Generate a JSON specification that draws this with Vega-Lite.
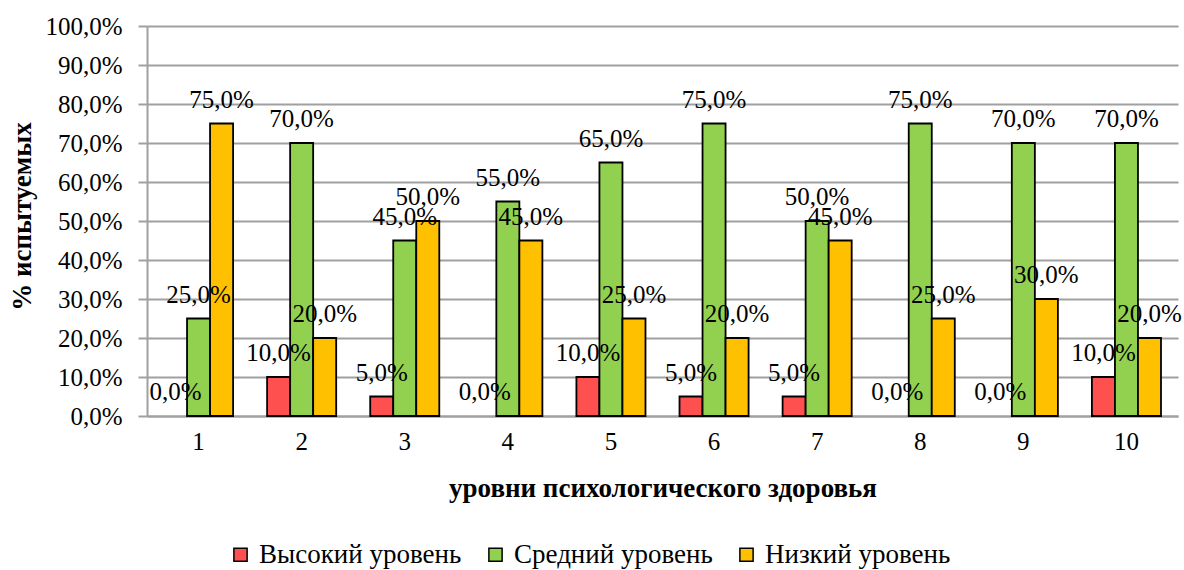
{
  "$schema": "https://vega.github.io/schema/vega-lite/v6.json",
  "autosize": {"type": "none"},
  "width": 1031,
  "height": 390,
  "padding": {"left": 147, "top": 26, "right": 6, "bottom": 154},
  "background": "white",
  "config": {
    "locale": {"number": {"decimal": ",", "thousands": " ", "grouping": [3], "currency": ["", " ₽"]}},
    "font": "Liberation Serif",
    "view": {"stroke": null}
  },
  "data": {
    "values": [
      {"g": "1", "s": "Высокий уровень", "v": 0.0},
      {"g": "1", "s": "Средний уровень", "v": 0.25},
      {"g": "1", "s": "Низкий уровень", "v": 0.75},
      {"g": "2", "s": "Высокий уровень", "v": 0.10},
      {"g": "2", "s": "Средний уровень", "v": 0.70},
      {"g": "2", "s": "Низкий уровень", "v": 0.20},
      {"g": "3", "s": "Высокий уровень", "v": 0.05},
      {"g": "3", "s": "Средний уровень", "v": 0.45},
      {"g": "3", "s": "Низкий уровень", "v": 0.50},
      {"g": "4", "s": "Высокий уровень", "v": 0.0},
      {"g": "4", "s": "Средний уровень", "v": 0.55},
      {"g": "4", "s": "Низкий уровень", "v": 0.45},
      {"g": "5", "s": "Высокий уровень", "v": 0.10},
      {"g": "5", "s": "Средний уровень", "v": 0.65},
      {"g": "5", "s": "Низкий уровень", "v": 0.25},
      {"g": "6", "s": "Высокий уровень", "v": 0.05},
      {"g": "6", "s": "Средний уровень", "v": 0.75},
      {"g": "6", "s": "Низкий уровень", "v": 0.20},
      {"g": "7", "s": "Высокий уровень", "v": 0.05},
      {"g": "7", "s": "Средний уровень", "v": 0.50},
      {"g": "7", "s": "Низкий уровень", "v": 0.45},
      {"g": "8", "s": "Высокий уровень", "v": 0.0},
      {"g": "8", "s": "Средний уровень", "v": 0.75},
      {"g": "8", "s": "Низкий уровень", "v": 0.25},
      {"g": "9", "s": "Высокий уровень", "v": 0.0},
      {"g": "9", "s": "Средний уровень", "v": 0.70},
      {"g": "9", "s": "Низкий уровень", "v": 0.30},
      {"g": "10", "s": "Высокий уровень", "v": 0.10},
      {"g": "10", "s": "Средний уровень", "v": 0.70},
      {"g": "10", "s": "Низкий уровень", "v": 0.20}
    ]
  },
  "encoding": {
    "x": {
      "field": "g", "type": "ordinal", "sort": null,
      "scale": {"paddingInner": 0.33, "paddingOuter": 0.165},
      "axis": {
        "title": "уровни психологического здоровья",
        "titleFont": "Liberation Serif", "titleFontSize": 27, "titleFontWeight": "bold", "titleColor": "black",
        "titleY": 80, "titleBaseline": "alphabetic",
        "labelAngle": 0, "labelFont": "Liberation Serif", "labelFontSize": 25, "labelColor": "black", "labelPadding": 13,
        "ticks": false, "domainColor": "#a0a0a0", "domainWidth": 2
      }
    },
    "xOffset": {"field": "s", "type": "nominal", "sort": ["Высокий уровень", "Средний уровень", "Низкий уровень"], "scale": {"paddingInner": 0, "paddingOuter": 0}},
    "y": {
      "field": "v", "type": "quantitative",
      "scale": {"domain": [0, 1]},
      "axis": {
        "title": "%  испытуемых",
        "titleFont": "Liberation Serif", "titleFontSize": 27, "titleFontWeight": "bold", "titleColor": "black",
        "titleX": -117, "titleY": 190, "titleAlign": "center", "titleBaseline": "alphabetic", "titleAngle": -90,
        "values": [0, 0.1, 0.2, 0.3, 0.4, 0.5, 0.6, 0.7, 0.8, 0.9, 1.0],
        "format": ".1%",
        "labelFont": "Liberation Serif", "labelFontSize": 25, "labelColor": "black", "labelPadding": 16,
        "tickSize": 9, "tickColor": "#a0a0a0", "tickWidth": 2,
        "gridColor": "#a0a0a0", "gridWidth": 2,
        "domainColor": "#a0a0a0", "domainWidth": 2
      }
    }
  },
  "layer": [
    {
      "mark": {"type": "bar", "stroke": "black", "strokeWidth": 1.8},
      "encoding": {
        "strokeOpacity": {"condition": {"test": "datum.v == 0", "value": 0}, "value": 1},
        "color": {
          "field": "s", "type": "nominal",
          "sort": ["Высокий уровень", "Средний уровень", "Низкий уровень"],
          "scale": {"domain": ["Высокий уровень", "Средний уровень", "Низкий уровень"], "range": ["#ff5050", "#92d050", "#ffc000"]},
          "legend": {
            "title": null, "orient": "none", "direction": "horizontal",
            "legendX": 80, "legendY": 515,
            "symbolType": "square", "symbolSize": 175, "symbolStrokeColor": "black", "symbolStrokeWidth": 1.5,
            "labelFont": "Liberation Serif", "labelFontSize": 27, "labelColor": "black", "labelOffset": 5,
            "labelLimit": 400, "columnPadding": 20
          }
        }
      }
    },
    {
      "mark": {"type": "text", "baseline": "alphabetic", "dy": -16, "font": "Liberation Serif", "fontSize": 25, "color": "black"},
      "encoding": {
        "text": {"field": "v", "type": "quantitative", "format": ".1%"}
      }
    }
  ]
}
